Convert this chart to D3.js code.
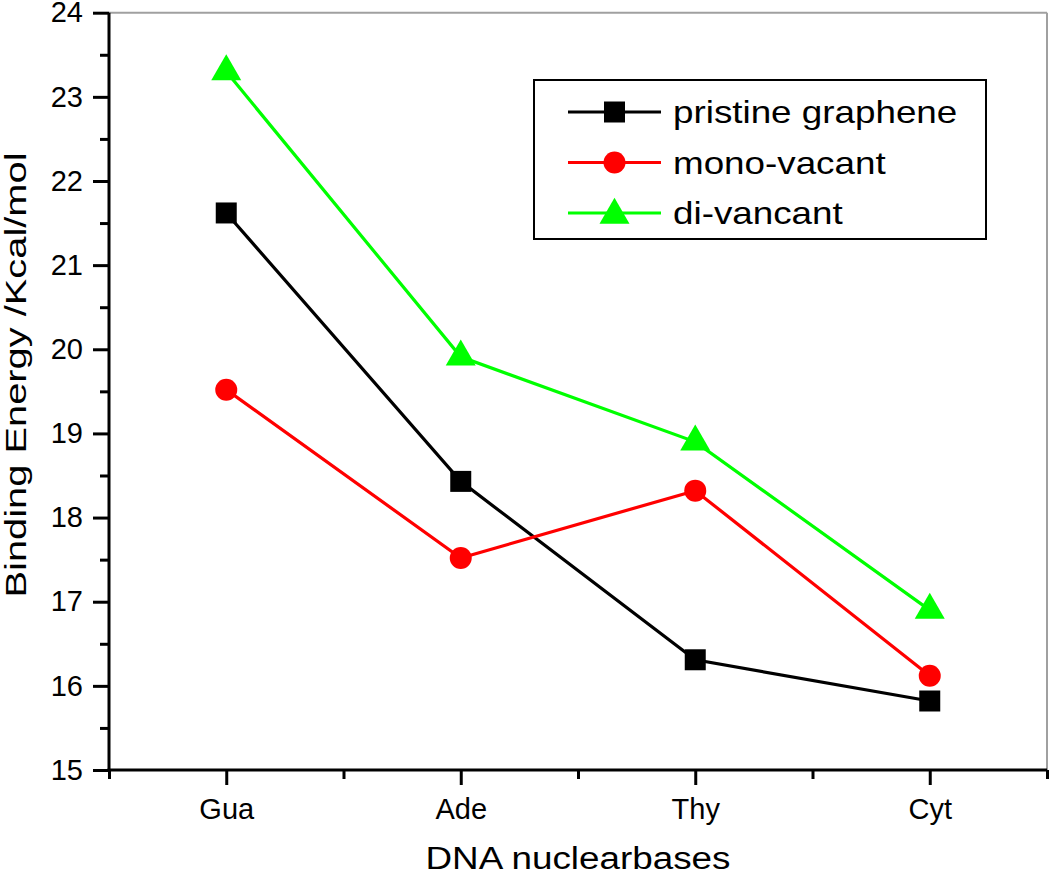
<!DOCTYPE html>
<html>
<head>
<meta charset="utf-8">
<script src="https://cdn.jsdelivr.net/npm/d3@7"></script>
<style>
  html, body { margin: 0; padding: 0; background: #fff; }
  svg { display: block; font-family: "Liberation Sans", Arial, sans-serif; }
</style>
</head>
<body>
<svg id="chart" width="1050" height="876"></svg>
<script>
const categories = ["Gua", "Ade", "Thy", "Cyt"];
const pristine = [21.62, 18.43, 16.31, 15.82];
const monoVacant = [19.52, 17.52, 18.32, 16.12];
const diVacant = [23.30, 19.91, 18.90, 16.90];
const seriesNames = ["pristine graphene", "mono-vacant", "di-vancant"];
const yTicks = [15, 16, 17, 18, 19, 20, 21, 22, 23, 24];
const xTitle = "DNA nuclearbases";
const yTitle = "Binding Energy  /Kcal/mol";

const series = [
  { name: seriesNames[0], values: pristine, color: "#000000", symbol: d3.symbolSquare, size: 441 },
  { name: seriesNames[1], values: monoVacant, color: "#ff0000", symbol: d3.symbolCircle, size: 380 },
  { name: seriesNames[2], values: diVacant, color: "#00ff00", symbol: d3.symbolTriangle, size: 390 }
];

const svg = d3.select("#chart");
const L = 109, R = 1047, T = 12.7, B = 770;

const x = d3.scaleLinear().domain([0.5, categories.length + 0.5]).range([L, R]);
const y = d3.scaleLinear().domain([15, 24]).range([B, T]);

// frame top & right (gray)
svg.append("line").attr("x1", L).attr("x2", R).attr("y1", T).attr("y2", T)
  .attr("stroke", "#a0a0a0").attr("stroke-width", 2);
svg.append("line").attr("x1", R).attr("x2", R).attr("y1", T).attr("y2", B)
  .attr("stroke", "#a0a0a0").attr("stroke-width", 2);

// y axis
const yAxis = d3.axisLeft(y).tickValues(yTicks).tickSize(16).tickPadding(10).tickFormat(d3.format("d"));
const yMinor = d3.axisLeft(y).tickValues(d3.range(15.5, 24, 1)).tickSize(9).tickFormat("");
const gyMinor = svg.append("g").attr("transform", `translate(${L},0)`).call(yMinor);
const gy = svg.append("g").attr("transform", `translate(${L},0)`).call(yAxis);

// x axis
const xAxis = d3.axisBottom(x).tickValues(d3.range(1, categories.length + 1))
  .tickSize(15).tickPadding(14).tickFormat(i => categories[i - 1]);
const xMinor = d3.axisBottom(x).tickValues(d3.range(0.5, categories.length + 1, 1)).tickSize(9).tickFormat("");
const gxMinor = svg.append("g").attr("transform", `translate(0,${B})`).call(xMinor);
const gx = svg.append("g").attr("transform", `translate(0,${B})`).call(xAxis);

[gy, gyMinor, gx, gxMinor].forEach(g => {
  g.selectAll(".domain").attr("stroke", "#000").attr("stroke-width", 3);
  g.selectAll(".tick line").attr("stroke", "#000").attr("stroke-width", 3);
  g.selectAll(".tick text").attr("fill", "#000").style("font-size", "29px")
    .style("font-family", '"Liberation Sans", Arial, sans-serif');
});
gyMinor.select(".domain").attr("d", `M0,${B + 1.5}V${T}`);
gxMinor.select(".domain").attr("d", `M${L - 1.5},0H${R}`);
gy.select(".domain").remove();
gx.select(".domain").remove();
gx.selectAll(".tick text").attr("dy", "0.68em");

// axis titles
svg.append("text").attr("x", (L + R) / 2).attr("y", 869).attr("text-anchor", "middle")
  .attr("textLength", 305).attr("lengthAdjust", "spacingAndGlyphs")
  .style("font-size", "31px").attr("fill", "#000").text(xTitle);
svg.append("text").attr("transform", `translate(26,375) rotate(-90)`)
  .attr("text-anchor", "middle").attr("textLength", 445).attr("lengthAdjust", "spacingAndGlyphs")
  .style("font-size", "29px").attr("fill", "#000").text(yTitle);

// series
const line = d3.line().x((d, i) => x(i + 1)).y(d => y(d));
series.forEach(s => {
  svg.append("path").datum(s.values).attr("d", line).attr("fill", "none")
    .attr("stroke", s.color).attr("stroke-width", 3.2).attr("stroke-linejoin", "miter");
});
series.forEach(s => {
  svg.append("g").selectAll("path").data(s.values).join("path")
    .attr("transform", (d, i) => `translate(${x(i + 1)},${y(d)})`)
    .attr("d", d3.symbol().type(s.symbol).size(s.size)).attr("fill", s.color);
});

// legend
const lg = svg.append("g");
lg.append("rect").attr("x", 534).attr("y", 80).attr("width", 452).attr("height", 159)
  .attr("fill", "none").attr("stroke", "#000").attr("stroke-width", 2);
series.forEach((s, i) => {
  const cy = 112 + i * 50.5;
  lg.append("line").attr("x1", 568).attr("x2", 661).attr("y1", cy).attr("y2", cy)
    .attr("stroke", s.color).attr("stroke-width", 3.2);
  lg.append("path").attr("transform", `translate(614.5,${cy + (s.symbol === d3.symbolTriangle ? 2 : 0)})`)
    .attr("d", d3.symbol().type(s.symbol).size(s.size)).attr("fill", s.color);
  lg.append("text").attr("transform", `translate(673,${cy + 11}) scale(1.15,1)`)
    .style("font-size", "32px").attr("fill", "#000").text(s.name);
});
</script>
</body>
</html>
